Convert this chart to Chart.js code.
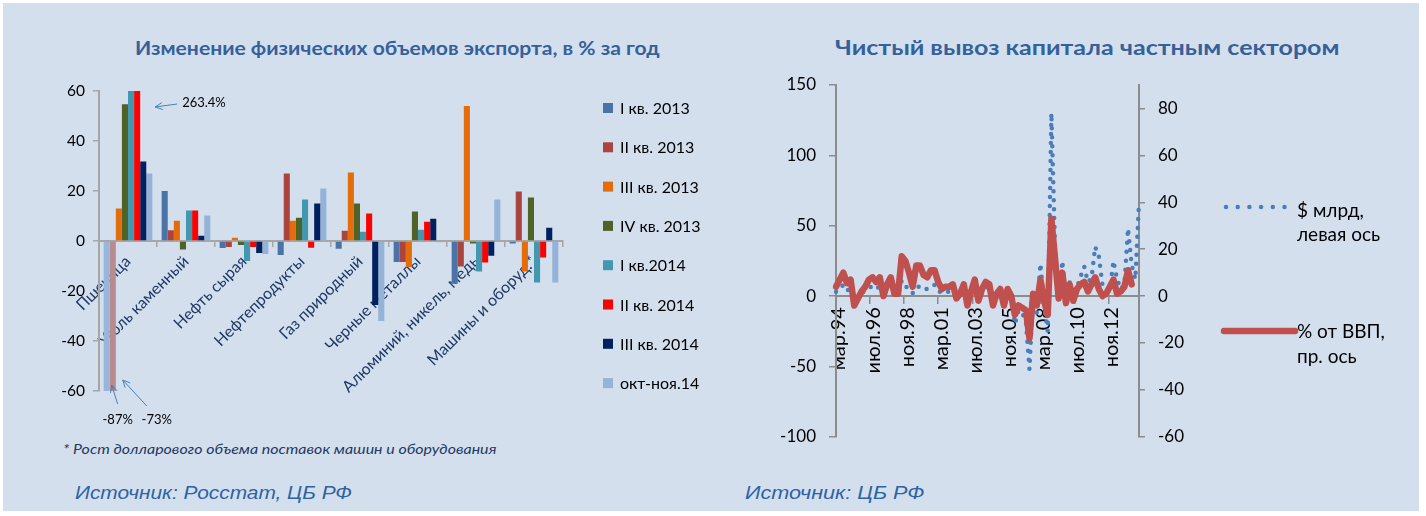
<!DOCTYPE html>
<html><head><meta charset="utf-8">
<script src="https://cdn.jsdelivr.net/npm/chart.js@4.4.1/dist/chart.umd.min.js"></script>
<style>
html,body{margin:0;padding:0;background:#fff;width:1426px;height:516px;overflow:hidden;}
#panel{position:absolute;left:3px;top:3px;width:1416px;height:508px;background:#d4dfee;}
.t{position:absolute;white-space:nowrap;transform-origin:0 0;line-height:1.2;}
canvas{position:absolute;}
</style></head><body>
<div id="panel"></div>
<div class="t" id="title1" style="font:bold 19px Lato;color:#34619a">Изменение физических объемов экспорта, в % за год</div>
<div class="t" id="title2" style="font:bold 20.5px Lato;color:#34619a">Чистый вывоз капитала частным сектором</div>
<div class="t" id="foot" style="font:italic 14px Lato;color:#1f3864">* Рост долларового объема поставок машин и оборудования</div>
<div class="t" id="src1" style="font:italic 18px 'Liberation Sans';color:#2b63a3">Источник: Росстат, ЦБ РФ</div>
<div class="t" id="src2" style="font:italic 18px 'Liberation Sans';color:#2b63a3">Источник: ЦБ РФ</div>
<canvas id="c1" width="700" height="380" style="left:20px;top:60px"></canvas>
<canvas id="c2" width="680" height="400" style="left:740px;top:60px"></canvas>
<script>
// ---------- Left chart data ----------
const exportCategories = ['Пшеница','Уголь каменный','Нефть сырая','Нефтепродукты','Газ природный','Черные металлы','Алюминий, никель, медь','Машины и оборуд.*'];
const periodNames = ['I кв. 2013','II кв. 2013','III кв. 2013','IV кв. 2013','I кв.2014','II кв. 2014','III кв. 2014','окт-ноя.14'];
const q1_2013   = [-87, 20, -2.8, -5.6, -3.1, -8.4, -17.1, -1.0];
const q2_2013   = [-73, 4.3, -2.4, 27.0, 4.1, -8.4, -10.2, 19.8];
const q3_2013   = [13.0, 8.1, 1.3, 8.1, 27.4, -10.4, 54.0, -12.2];
const q4_2013   = [54.7, -3.4, -1.6, 9.3, 15.0, 11.8, -1.0, 17.4];
const q1_2014   = [60, 12.2, -8.0, 16.6, 3.7, 4.5, -12.2, -16.6];
const q2_2014   = [263.4, 12.2, -2.4, -2.7, 11.0, 7.7, -8.6, -6.6];
const q3_2014   = [31.8, 2.1, -4.8, 15.0, -25.6, 8.9, -5.9, 5.3];
const octNov2014 = [27.0, 10.2, -5.2, 21.0, -32.0, -0.5, 16.6, -16.6];
const exportTicks = [-60, -40, -20, 0, 20, 40, 60];

// ---------- Right chart data ----------
const monthNames = ['янв','фев','мар','апр','май','июн','июл','авг','сен','окт','ноя','дек'];
const firstYear = 1994, lastYear = 2014;
// quarterly values (Q1 1994 ...), $ bn, left axis
const outflowBn = [3,5,8,4, 5,-3,-1,2, 4,6,7,5, 7,0,5,8, 1,1,11,7, 5,2,6,7, 5,5,7,8, 4,2,3,3,
  4,-1,1,4, -4,2,7,-2, 3,6,6,-5, 2,5,-7,5, 0,-20,-10,-12, -18,-52,3,-12, 23,-6,-25,130,
  35,-3,25,-6, 10,-3,6,14, 21,10,13,35, 28,8,6,4, 25,12,5,8, 48,22,12,67];
// quarterly values, % of GDP, right axis
const outflowGdp = [4,7,10,5.5, 7,-4,-1,2, 4,7,8,6, 8,0,5,8, 1,1,17,15, 10,4,13,13, 9,8,11,11,
  6,3,4,4, 5,-1,1,5, -4,2,7,-2, 3,6,5,-4, 1,3,-4,3, 0,-8,-4,-5, -6,-18,1,-4, 7,-2,-8,33,
  16,-1,10,-3, 5,-2,3,5, 6,2,5,8, 3,0,1,4, 7,1,2,4, 11,5];

const monthLabels = [];
for (let y = firstYear; y <= lastYear; y++) {
  for (let m = 0; m < 12; m++) {
    if (y === firstYear && m < 2) continue;
    monthLabels.push(monthNames[m] + '.' + String(y).slice(2));
  }
}
function quarterPoints(vals) { return vals.map((v, q) => ({x: monthLabels[q * 3], y: v})); }

// ---------- text placement ----------
function place(id, x1, x2, yc) {
  const el = document.getElementById(id);
  const w = el.offsetWidth, h = el.offsetHeight;
  el.style.left = x1 + 'px';
  el.style.top = (yc - h / 2) + 'px';
  el.style.transform = 'scaleX(' + ((x2 - x1) / w) + ')';
}
place('title1', 135, 660, 47);
place('title2', 835, 1340, 47);
place('foot', 63, 496, 448);
place('src1', 75, 352, 493);
place('src2', 745, 925, 493);

Chart.defaults.font.family = 'Lato';
Chart.defaults.color = '#000';

// ---------- Left chart ----------
const exportSeries = [q1_2013, q2_2013, q3_2013, q4_2013, q1_2014, q2_2014, q3_2014, octNov2014];
const exportColors = ['#4a74a8','#a9443f','#e46c0a','#4f6228','#4198af','#ff0000','#002060','#95b3d7'];
const truncatedColors = {0: '#99b5d9', 1: '#b88b90'};
function barColor(i) {
  return (ctx) => (ctx.type === 'data' && ctx.dataIndex === 0 && truncatedColors[i]) ? truncatedColors[i] : exportColors[i];
}

function arrow(ctx, x1, y1, x2, y2) {
  ctx.beginPath(); ctx.moveTo(x1, y1); ctx.lineTo(x2, y2); ctx.stroke();
  const a = Math.atan2(y2 - y1, x2 - x1), L = 8, s = 0.45;
  ctx.beginPath();
  ctx.moveTo(x2 - L * Math.cos(a - s), y2 - L * Math.sin(a - s));
  ctx.lineTo(x2, y2);
  ctx.lineTo(x2 - L * Math.cos(a + s), y2 - L * Math.sin(a + s));
  ctx.stroke();
}

const annotPlugin = {
  id: 'annot',
  afterDraw(chart) {
    const ctx = chart.ctx, ys = chart.scales.y, a = chart.chartArea;
    const yTop = ys.getPixelForValue(60), yBot = ys.getPixelForValue(-60);
    const b0 = chart.getDatasetMeta(0).data[0], b1 = chart.getDatasetMeta(1).data[0], b5 = chart.getDatasetMeta(5).data[0];
    ctx.save();
    ctx.strokeStyle = '#4a7ebb'; ctx.lineWidth = 1;
    arrow(ctx, b5.x + 40, yTop + 13, b5.x + 18, yTop + 16);
    arrow(ctx, b0.x + 11, yBot + 13, b0.x + 5, yBot - 6);
    arrow(ctx, b1.x + 34, yBot + 15, b1.x + 10, yBot - 11);
    ctx.fillStyle = '#000'; ctx.font = '13px Lato'; ctx.textBaseline = 'middle';
    ctx.textAlign = 'left'; ctx.fillText(q2_2014[0].toFixed(1) + '%', b5.x + 45, yTop + 12);
    ctx.textAlign = 'center';
    ctx.fillText(q1_2013[0] + '%', b0.x + 11, yBot + 29);
    ctx.fillText(q2_2013[0] + '%', b1.x + 44, yBot + 29);
    // legend
    const ds = chart.data.datasets;
    ctx.font = '16px Lato'; ctx.textAlign = 'left';
    ds.forEach((d, i) => {
      const y = a.top + 17 + i * 39.3;
      ctx.fillStyle = exportColors[i];
      ctx.fillRect(a.right + 40, y - 5, 10, 10);
      ctx.fillStyle = '#000';
      ctx.fillText(d.label, a.right + 57, y + 1);
    });
    ctx.restore();
  }
};

new Chart(document.getElementById('c1'), {
  type: 'bar',
  data: {
    labels: exportCategories,
    datasets: exportSeries.map((d, i) => ({
      label: periodNames[i], data: d,
      backgroundColor: barColor(i), borderWidth: 0,
      categoryPercentage: 0.84, barPercentage: 1
    }))
  },
  options: {
    responsive: false, animation: false, devicePixelRatio: 1,
    layout: {padding: {left: 0, top: 31, bottom: 49, right: 157}},
    scales: {
      x: {
        position: {y: 0},
        grid: {display: true, drawOnChartArea: false, drawTicks: true, tickLength: 5, color: '#a6a6a6', lineWidth: 1.5, offset: true},
        border: {display: true, color: '#a6a6a6', width: 2},
        ticks: {minRotation: 45, maxRotation: 45, autoSkip: false, font: {size: 16}, color: '#1f3864', padding: 6}
      },
      y: {
        min: exportTicks[0], max: exportTicks[exportTicks.length - 1],
        ticks: {stepSize: 20, font: {size: 15.5}, color: '#000', padding: 8},
        grid: {drawOnChartArea: false, drawTicks: true, tickLength: 6, color: '#a6a6a6', lineWidth: 1.5},
        border: {color: '#a6a6a6', width: 2},
        afterFit(s) { s.width = 79; }
      }
    },
    plugins: {legend: {display: false}, tooltip: {enabled: false}}
  },
  plugins: [annotPlugin]
});

// ---------- Right chart ----------
const capLegendPlugin = {
  id: 'capLegend',
  afterDraw(chart) {
    const ctx = chart.ctx, a = chart.chartArea;
    const ds = chart.data.datasets;
    const x0 = a.right + 85, xt = a.right + 158;
    const yb = a.top + 122, yr = a.top + 246;
    ctx.save();
    ctx.lineCap = 'round';
    ctx.strokeStyle = ds[0].borderColor; ctx.lineWidth = ds[0].borderWidth;
    ctx.setLineDash([0, 11.7]);
    ctx.beginPath(); ctx.moveTo(x0 + 2, yb); ctx.lineTo(x0 + 64, yb); ctx.stroke();
    ctx.setLineDash([]);
    ctx.strokeStyle = ds[1].borderColor; ctx.lineWidth = ds[1].borderWidth;
    ctx.beginPath(); ctx.moveTo(x0, yr); ctx.lineTo(x0 + 71, yr); ctx.stroke();
    ctx.fillStyle = '#000'; ctx.font = '19px Lato'; ctx.textBaseline = 'middle'; ctx.textAlign = 'left';
    const l0 = ds[0].label.split(', '), l1 = ds[1].label.split(', ');
    ctx.fillText(l0[0] + ',', xt, yb + 4); ctx.fillText(l0[1], xt, yb + 28);
    ctx.fillText(l1[0] + ',', xt, yr + 1); ctx.fillText(l1[1], xt, yr + 26);
    ctx.restore();
  }
};

new Chart(document.getElementById('c2'), {
  type: 'line',
  data: {
    labels: monthLabels,
    datasets: [
      {label: '$ млрд, левая ось', data: quarterPoints(outflowBn), yAxisID: 'y', borderColor: '#4a7ebb', borderWidth: 4.5,
       borderDash: [0, 9], borderCapStyle: 'round', pointRadius: 0, tension: 0, order: 2},
      {label: '% от ВВП, пр. ось', data: quarterPoints(outflowGdp), yAxisID: 'y1', borderColor: '#c0504d', borderWidth: 6.5,
       borderCapStyle: 'round', borderJoinStyle: 'round', pointRadius: 0, tension: 0, order: 1}
    ]
  },
  options: {
    responsive: false, animation: false, devicePixelRatio: 1,
    layout: {padding: {left: 0, top: 25, bottom: 23, right: 221}},
    scales: {
      x: {
        position: {y: 0},
        grid: {display: true, drawOnChartArea: false, drawTicks: true, tickLength: 7, color: '#8c8c8c', lineWidth: 1.5},
        border: {display: true, color: '#8c8c8c', width: 2},
        ticks: {autoSkip: false, minRotation: 90, maxRotation: 90, font: {size: 20}, color: '#000', padding: 4, labelOffset: 3,
          callback(v, i) { return i % 28 === 0 ? this.getLabelForValue(v) : null; }}
      },
      y: {
        min: -100, max: 150,
        ticks: {stepSize: 50, font: {size: 17}, color: '#000', padding: 13},
        grid: {drawOnChartArea: false, drawTicks: true, tickLength: 7, color: '#8c8c8c', lineWidth: 1.5},
        border: {color: '#8c8c8c', width: 2},
        afterFit(s) { s.width = 96; }
      },
      y1: {
        position: 'right', min: -60, max: 90,
        ticks: {stepSize: 20, includeBounds: false, font: {size: 17}, color: '#000', padding: 13},
        grid: {drawOnChartArea: false, drawTicks: true, tickLength: 6, color: '#8c8c8c', lineWidth: 1.5},
        border: {color: '#8c8c8c', width: 2},
        afterFit(s) { s.width = 60; }
      }
    },
    plugins: {legend: {display: false}, tooltip: {enabled: false}}
  },
  plugins: [capLegendPlugin]
});
</script>
</body></html>
